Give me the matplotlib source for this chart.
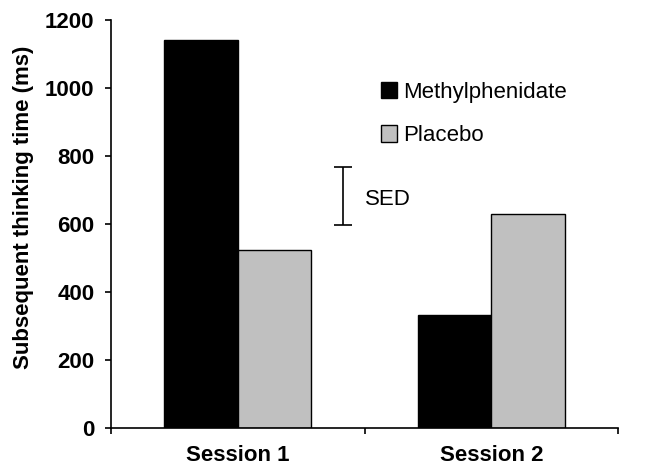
import numpy as np
import matplotlib.pyplot as plt

plt.rcParams['font.family'] = ['Liberation Sans', 'DejaVu Sans']

# --------------------------------------------------
# Data
# --------------------------------------------------
sessions = ["Session 1", "Session 2"]
methylphenidate = [1140, 332]
placebo = [523, 629]
sed_center = 682
sed_half = 86
sed_x = 0.414

# --------------------------------------------------
# Plot
# --------------------------------------------------
fig = plt.figure(figsize=(6.54, 4.67), dpi=100)
ax = fig.add_axes([0.1697, 0.0835, 0.7755, 0.8735])

x = np.arange(len(sessions))
w = 0.29
ax.bar(x - w / 2, methylphenidate, w, color="black", edgecolor="black",
       linewidth=1, label="Methylphenidate")
ax.bar(x + w / 2, placebo, w, color="#c0c0c0", edgecolor="black",
       linewidth=1, label="Placebo")

# SED bar
ax.errorbar([sed_x], [sed_center], yerr=[sed_half], color="black",
            capsize=6.5, elinewidth=1.2, capthick=1.2, fmt="none")
ax.text(0.502, sed_center - 10, "SED", fontsize=16, va="center", ha="left")

ax.set_xlim(-0.5, 1.5)
ax.set_ylim(0, 1200)
ax.set_yticks(np.arange(0, 1201, 200))
ax.set_ylabel("Subsequent thinking time (ms)", fontsize=16, fontweight="bold")
ax.yaxis.set_label_coords(-0.152, 0.54)

ax.set_xticks(x)
ax.set_xticklabels(sessions, fontsize=16, fontweight="bold")
ax.set_xticks([-0.5, 0.5, 1.5], minor=True)
ax.tick_params(axis="x", which="major", length=0, pad=12)
ax.tick_params(axis="x", which="minor", length=4, width=1.2, direction="out")
ax.tick_params(axis="y", length=4, width=1.2, direction="out", labelsize=16,
               pad=8)
for lab in ax.get_yticklabels():
    lab.set_fontweight("bold")

for s in ["top", "right"]:
    ax.spines[s].set_visible(False)
for s in ["left", "bottom"]:
    ax.spines[s].set_linewidth(1.2)

ax.legend(loc="upper left", bbox_to_anchor=(0.532, 0.848), frameon=False,
          fontsize=16, handlelength=0.75, handleheight=0.75,
          handletextpad=0.25, labelspacing=1.0, borderpad=0,
          borderaxespad=0)

fig.savefig("out.png", dpi=100)
